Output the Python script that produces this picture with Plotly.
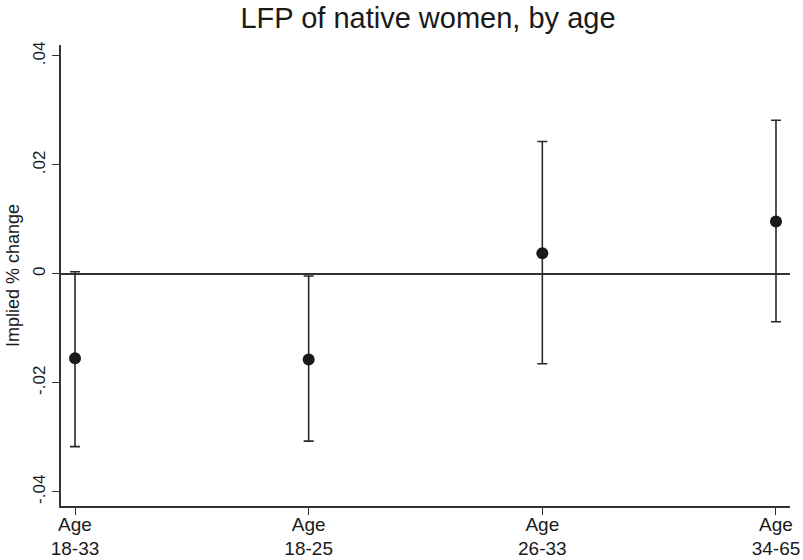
import plotly.graph_objects as go

# Point estimates and 95% confidence bounds for each age group
groups = ["Age<br>18-33", "Age<br>18-25", "Age<br>26-33", "Age<br>34-65"]
positions = [1, 2, 3, 4]
estimates = [-0.0155, -0.0157, 0.0038, 0.0096]
upper = [0.0004, -0.0004, 0.0243, 0.0282]
lower = [-0.0317, -0.0307, -0.0165, -0.0088]

y_ticks = [-0.04, -0.02, 0, 0.02, 0.04]
y_ticktext = ["-.04", "-.02", "0", ".02", ".04"]

err_plus = [u - e for u, e in zip(upper, estimates)]
err_minus = [e - l for e, l in zip(estimates, lower)]

font_family = "Liberation Sans, Arial, sans-serif"
ink = "#1a1a1a"

fig = go.Figure()
fig.add_trace(go.Scatter(
    x=positions,
    y=estimates,
    mode="markers",
    marker=dict(size=12, color=ink),
    error_y=dict(
        type="data",
        symmetric=False,
        array=err_plus,
        arrayminus=err_minus,
        color="#2a2a2a",
        thickness=1.6,
        width=5,
    ),
    showlegend=False,
))

fig.update_layout(
    width=803,
    height=560,
    paper_bgcolor="white",
    plot_bgcolor="white",
    margin=dict(l=61, r=13, t=45, b=54),
    font=dict(family=font_family, color=ink),
    title=dict(
        text="LFP of native women, by age",
        x=0.533,
        xanchor="center",
        y=0.986,
        yanchor="top",
        font=dict(size=29, color=ink),
    ),
)

fig.update_xaxes(
    range=[0.94, 4.06],
    tickvals=positions,
    ticktext=groups,
    ticks="outside",
    ticklen=7,
    tickwidth=1.2,
    tickcolor="#333333",
    showline=True,
    linecolor="#333333",
    linewidth=1.5,
    showgrid=False,
    zeroline=False,
    automargin=False,
    ticklabelstandoff=-7,
    tickfont=dict(size=19),
)

fig.update_yaxes(
    range=[-0.0426, 0.042],
    tickvals=y_ticks,
    ticktext=y_ticktext,
    tickangle=-90,
    ticks="outside",
    ticklen=7,
    tickwidth=1.2,
    tickcolor="#333333",
    showline=True,
    linecolor="#333333",
    linewidth=1.5,
    showgrid=False,
    zeroline=True,
    zerolinecolor="#333333",
    zerolinewidth=1.5,
    automargin=False,
    tickfont=dict(size=17),
    title=dict(text="Implied % change", font=dict(size=18), standoff=6),
)

fig.write_html("out.html")
